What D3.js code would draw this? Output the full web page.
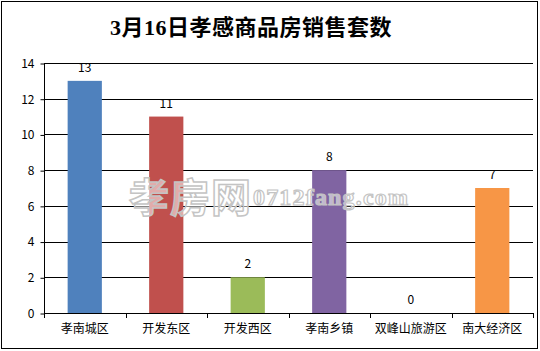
<!DOCTYPE html>
<html>
<head>
<meta charset="utf-8">
<script src="https://cdn.jsdelivr.net/npm/d3@7.9.0/dist/d3.min.js"></script>
<style>
  html, body { margin: 0; padding: 0; background: #fff; }
  svg { display: block; }
  text { font-family: "Noto Sans CJK SC", "DejaVu Sans", sans-serif; }
</style>
</head>
<body>
<svg id="chart" width="540" height="351"></svg>
<script>
// chart data
const titleText = "3月16日孝感商品房销售套数";
const districts = ["孝南城区", "开发东区", "开发西区", "孝南乡镇", "双峰山旅游区", "南大经济区"];
const sales = [13, 11, 2, 8, 0, 7];
const barColors = ["#4F81BD", "#C0504D", "#9BBB59", "#8064A2", "#4BACC6", "#F79646"];
const yTicks = [0, 2, 4, 6, 8, 10, 12, 14];

const width = 540, height = 351;
const margin = { top: 63, right: 7, bottom: 38, left: 44 };

const svg = d3.select("#chart");

// outer frame
svg.append("rect")
  .attr("x", 1.5).attr("y", 1.5)
  .attr("width", width - 4).attr("height", height - 4)
  .attr("fill", "#fff").attr("stroke", "#000");

svg.append("text")
  .attr("x", 251).attr("y", 35)
  .attr("text-anchor", "middle")
  .style("font-family", "'Liberation Serif', 'Noto Sans CJK SC', serif")
  .style("font-weight", "bold")
  .style("font-size", "22px")
  .style("letter-spacing", "0.5px")
  .text(titleText);

const x = d3.scaleBand()
  .domain(districts)
  .range([margin.left, width - margin.right])
  .paddingInner(0.58).paddingOuter(0.29);

const y = d3.scaleLinear()
  .domain([0, 14])
  .range([height - margin.bottom, margin.top]);

// gridlines
svg.append("g")
  .selectAll("line")
  .data(yTicks.filter(d => d > 0))
  .join("line")
  .attr("x1", margin.left).attr("x2", width - margin.right)
  .attr("y1", d => Math.round(y(d)) + 0.5).attr("y2", d => Math.round(y(d)) + 0.5)
  .attr("stroke", "#000");

// bars
svg.append("g")
  .selectAll("rect")
  .data(sales)
  .join("rect")
  .attr("x", (d, i) => x(districts[i]))
  .attr("width", x.bandwidth())
  .attr("y", d => y(d))
  .attr("height", d => y(0) - y(d))
  .attr("fill", (d, i) => barColors[i]);

// value labels
svg.append("g")
  .selectAll("text")
  .data(sales)
  .join("text")
  .attr("x", (d, i) => x(districts[i]) + x.bandwidth() / 2)
  .attr("y", d => y(d) - 9)
  .attr("text-anchor", "middle")
  .style("font-size", "12px")
  .text(d => d);

// watermark, drawn over the bars
const wm = svg.append("g");
wm.append("text")
  .attr("x", 129).attr("y", 212)
  .style("font-size", "40px").style("font-weight", "bold")
  .style("letter-spacing", "1px")
  .attr("fill", "#fff").attr("fill-opacity", 0.55)
  .attr("stroke", "#c4c4c4").attr("stroke-width", 1.5)
  .text("孝房网");
wm.append("text")
  .attr("x", 253).attr("y", 205)
  .attr("textLength", 155)
  .style("font-family", "'Liberation Serif', serif")
  .style("font-size", "24px").style("font-weight", "bold")
  .attr("fill", "#fff").attr("fill-opacity", 0.55)
  .attr("stroke", "#c4c4c4").attr("stroke-width", 1.2)
  .text("0712fang.com");

// y axis
const yAxis = d3.axisLeft(y).tickValues(yTicks).tickSize(4).tickPadding(6);
const gy = svg.append("g")
  .attr("transform", `translate(${margin.left + 0.5},0.5)`)
  .call(yAxis);
gy.selectAll("text").style("font-size", "12px").attr("fill", "#000");
gy.selectAll("line, path").attr("stroke", "#000");
gy.select(".domain").attr("d", `M0,${y(14)}V${y(0)}`);

// x axis: ticks at category boundaries
const step = x.step();
const boundaries = d3.range(districts.length + 1).map(i => margin.left + i * step);
const gx = svg.append("g");
gx.append("line")
  .attr("x1", margin.left).attr("x2", width - margin.right)
  .attr("y1", Math.round(y(0)) + 0.5).attr("y2", Math.round(y(0)) + 0.5)
  .attr("stroke", "#000");
gx.selectAll("line.tick")
  .data(boundaries)
  .join("line")
  .attr("class", "tick")
  .attr("x1", d => Math.round(d) + 0.5).attr("x2", d => Math.round(d) + 0.5)
  .attr("y1", Math.round(y(0))).attr("y2", Math.round(y(0)) + 5)
  .attr("stroke", "#000");
gx.selectAll("text")
  .data(districts)
  .join("text")
  .attr("x", d => x(d) + x.bandwidth() / 2)
  .attr("y", y(0) + 20)
  .attr("text-anchor", "middle")
  .style("font-size", "12px")
  .text(d => d);
</script>
</body>
</html>
